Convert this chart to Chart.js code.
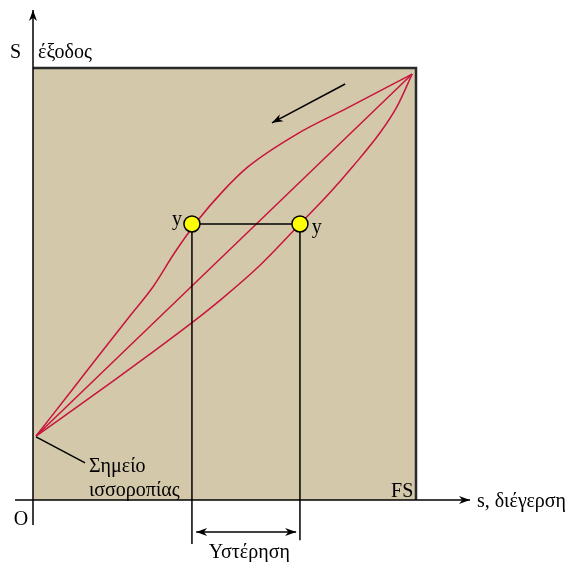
<!DOCTYPE html>
<html>
<head>
<meta charset="utf-8">
<script src="https://cdn.jsdelivr.net/npm/chart.js@4"></script>
<style>
  html, body { margin: 0; padding: 0; background: #fff; }
  canvas { display: block; }
</style>
</head>
<body>
<canvas id="chart" width="576" height="562"></canvas>
<script>
// s = stimulus (0..FS), S = output (0..1), both normalised
const upperS = [0.008, 0.104, 0.175, 0.253, 0.313, 0.371, 0.431, 0.496, 0.561, 0.689, 0.820, 0.990];
const upperY = [0.148, 0.257, 0.338, 0.426, 0.493, 0.574, 0.648, 0.715, 0.771, 0.847, 0.907, 0.986];
const lowerS = [0.008, 0.209, 0.324, 0.410, 0.496, 0.585, 0.697, 0.775, 0.836, 0.906, 0.950, 0.990];
const lowerY = [0.148, 0.275, 0.350, 0.407, 0.468, 0.537, 0.639, 0.711, 0.773, 0.850, 0.910, 0.986];
const diagS = [0.008, 0.990];
const diagY = [0.148, 0.986];
const markS = [0.415, 0.697];
const markY = [0.639, 0.639];
const FS = 1;

const pts = (xs, ys) => xs.map((x, i) => ({x, y: ys[i]}));

const RED = "#c8143c";
const FONT = "20px 'Liberation Serif', 'DejaVu Serif', serif";

// text labels and arrows (normalised coords)
const labels = [
  {t: "S", x: -0.06, y: 1.024},
  {t: "έξοδος", x: 0.013, y: 1.024},
  {t: "O", x: -0.05, y: -0.058},
  {t: "FS", x: 0.935, y: 0.007},
  {t: "s, διέγερση", x: 1.159, y: -0.016},
  {t: "y", x: 0.363, y: 0.637},
  {t: "y", x: 0.728, y: 0.618},
  {t: "Σημείο", x: 0.146, y: 0.065},
  {t: "ισσοροπίας", x: 0.146, y: 0.009},
  {t: "Υστέρηση", x: 0.459, y: -0.134}
];
const arrows = [
  {x1: 0.815, y1: 0.963, x2: 0.624, y2: 0.873, both: false},
  {x1: 0.426, y1: -0.074, x2: 0.687, y2: -0.074, both: true},
  {x1: -0.047, y1: 0, x2: 1.141, y2: 0, both: false},
  {x1: 0, y1: -0.058, x2: 0, y2: 1.134, both: false}
];

function head(ctx, x1, y1, x2, y2){
  const a = Math.atan2(y2 - y1, x2 - x1), L = 11, W = 4;
  ctx.beginPath();
  ctx.moveTo(x2, y2);
  ctx.lineTo(x2 - L*Math.cos(a) + W*Math.sin(a), y2 - L*Math.sin(a) - W*Math.cos(a));
  ctx.lineTo(x2 - 0.7*L*Math.cos(a), y2 - 0.7*L*Math.sin(a));
  ctx.lineTo(x2 - L*Math.cos(a) - W*Math.sin(a), y2 - L*Math.sin(a) + W*Math.cos(a));
  ctx.closePath();
  ctx.fill();
}

const decor = {
  id: "decor",
  beforeDatasetsDraw(c){
    const {ctx, scales:{x, y}} = c;
    ctx.save();
    ctx.fillStyle = "#d3c8aa";
    const l = x.getPixelForValue(0), r = x.getPixelForValue(FS);
    const t = y.getPixelForValue(1), b = y.getPixelForValue(0);
    ctx.fillRect(l, t, r - l, b - t);
    ctx.strokeStyle = "#2a2a2a";
    ctx.lineWidth = 2.5;
    ctx.beginPath();
    ctx.moveTo(l, t); ctx.lineTo(r, t); ctx.lineTo(r, b);
    ctx.stroke();
    ctx.restore();
  },
  afterDatasetsDraw(c){
    const {ctx, scales:{x, y}} = c;
    ctx.save();
    ctx.strokeStyle = "#000";
    ctx.fillStyle = "#000";
    ctx.lineWidth = 1.5;
    for(const a of arrows){
      const x1 = x.getPixelForValue(a.x1), y1 = y.getPixelForValue(a.y1);
      const x2 = x.getPixelForValue(a.x2), y2 = y.getPixelForValue(a.y2);
      ctx.beginPath(); ctx.moveTo(x1, y1); ctx.lineTo(x2, y2); ctx.stroke();
      head(ctx, x1, y1, x2, y2);
      if(a.both) head(ctx, x2, y2, x1, y1);
    }
    ctx.font = FONT;
    ctx.textBaseline = "alphabetic";
    for(const lb of labels){
      ctx.fillText(lb.t, x.getPixelForValue(lb.x), y.getPixelForValue(lb.y));
    }
    ctx.restore();
  }
};

const blackLine = (data) => ({
  data, showLine: true, borderColor: "#000", borderWidth: 1.5,
  pointRadius: 0, fill: false, tension: 0, order: 2
});

new Chart(document.getElementById("chart"), {
  type: "scatter",
  data: {
    datasets: [
      {data: pts(upperS, upperY), showLine: true, borderColor: RED, borderWidth: 1.5, pointRadius: 0, cubicInterpolationMode: "monotone", order: 3},
      {data: pts(lowerS, lowerY), showLine: true, borderColor: RED, borderWidth: 1.5, pointRadius: 0, cubicInterpolationMode: "monotone", order: 3},
      {data: pts(diagS, diagY), showLine: true, borderColor: RED, borderWidth: 1.5, pointRadius: 0, order: 3},
      blackLine(pts(markS, markY)),
      blackLine([{x: markS[0], y: markY[0]}, {x: markS[0], y: -0.102}]),
      blackLine([{x: markS[1], y: markY[1]}, {x: markS[1], y: -0.093}]),
      blackLine([{x: diagS[0], y: 0.146}, {x: 0.136, y: 0.086}]),
      {data: pts(markS, markY), showLine: false, pointRadius: 8, pointBackgroundColor: "#ffff00",
       pointBorderColor: "#000", pointBorderWidth: 1.5, order: 1}
    ]
  },
  options: {
    responsive: false,
    animation: false,
    layout: {padding: 0, autoPadding: false},
    plugins: {legend: {display: false}, tooltip: {enabled: false}},
    scales: {
      x: {type: "linear", display: false, min: -33/383, max: 543/383},
      y: {type: "linear", display: false, min: -62/432, max: 500/432}
    }
  },
  plugins: [decor]
});
</script>
</body>
</html>
